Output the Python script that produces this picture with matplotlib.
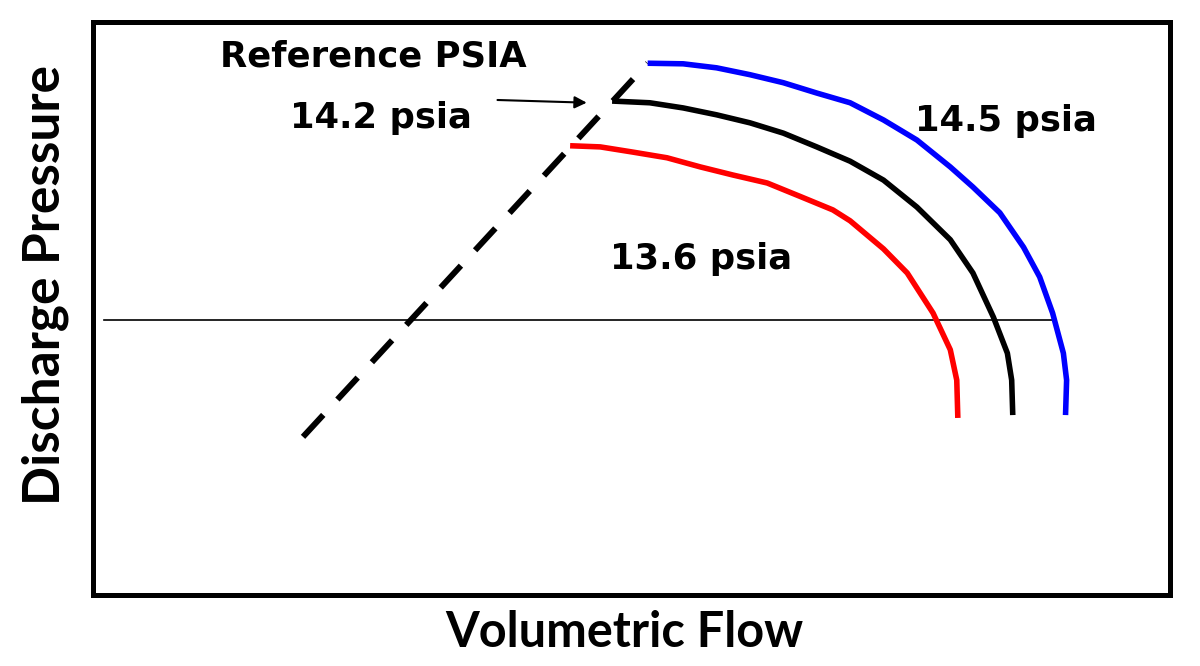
import matplotlib.pyplot as plt

# compressor map curves, arbitrary units (0-100 on both axes)
blue_flow = [51.5, 54.8, 57.9, 61.0, 64.1, 67.2, 70.3, 73.4, 76.5, 79.6, 81.7, 84.2,
             86.4, 87.9, 89.1, 90.1, 90.4, 90.3]
blue_press = [92.8, 92.7, 92.0, 90.8, 89.4, 87.6, 85.9, 82.9, 79.4, 74.7, 71.2, 66.7,
              60.7, 55.5, 49.2, 42.2, 37.5, 31.4]

black_flow = [48.2, 51.7, 54.8, 57.9, 61.0, 64.1, 67.2, 70.3, 73.4, 76.5, 79.6, 81.7,
              83.6, 84.9, 85.3, 85.4]
black_press = [86.2, 85.9, 85.0, 83.8, 82.4, 80.6, 78.2, 75.7, 72.4, 67.7, 62.0, 56.2,
               48.5, 42.2, 37.5, 31.4]

red_flow = [44.3, 47.1, 50.1, 53.3, 56.4, 59.4, 62.6, 65.6, 68.7, 70.3, 73.4, 75.6,
            78.0, 79.6, 80.2, 80.3]
red_press = [78.4, 78.2, 77.3, 76.3, 74.7, 73.3, 71.9, 69.6, 67.2, 65.3, 60.4, 56.2,
             49.2, 42.8, 37.5, 30.9]

surge_flow = [19.5, 51.5]
surge_press = [27.6, 92.8]

ref_press = 48.0
ref_flow = [1.0, 89.1]

fig = plt.figure(figsize=(12, 6.66), dpi=100)
ax = fig.add_axes([0.0775, 0.1066, 0.8975, 0.8604])
ax.set_xlim(0, 100)
ax.set_ylim(0, 100)
ax.set_xticks([])
ax.set_yticks([])
for s in ax.spines.values():
    s.set_linewidth(3.6)

ax.plot(ref_flow, [ref_press, ref_press], color='black', lw=1.2)
ax.plot(surge_flow, surge_press, color='black', lw=4.3, ls=(0, (5, 3.5)))
line_kw = dict(lw=4, solid_capstyle='butt', solid_joinstyle='round')
ax.plot(blue_flow, blue_press, color='#0000ff', **line_kw)
ax.plot(black_flow, black_press, color='black', **line_kw)
ax.plot(red_flow, red_press, color='#ff0000', **line_kw)

tkw = dict(fontsize=25.5, fontweight='bold', va='center', ha='left', family='DejaVu Sans')
ax.text(11.8, 94.0, 'Reference PSIA', **tkw)
ax.text(18.3, 83.2, '14.2 psia', **tkw)
ax.text(76.3, 82.7, '14.5 psia', **tkw)
ax.text(48.0, 58.6, '13.6 psia', **tkw)
ax.annotate('', xy=(46.1, 85.9), xytext=(37.3, 86.4),
            arrowprops=dict(arrowstyle='-|>', color='black', lw=1.5, mutation_scale=18))

fig.text(0.0375, 0.572, 'Discharge Pressure', rotation=90, ha='center', va='center',
         fontsize=37, fontweight='bold', family='Lato')
fig.text(0.52, 0.051, 'Volumetric Flow', ha='center', va='center',
         fontsize=35, fontweight='bold', family='Lato')

fig.savefig('out.png', dpi=100)
